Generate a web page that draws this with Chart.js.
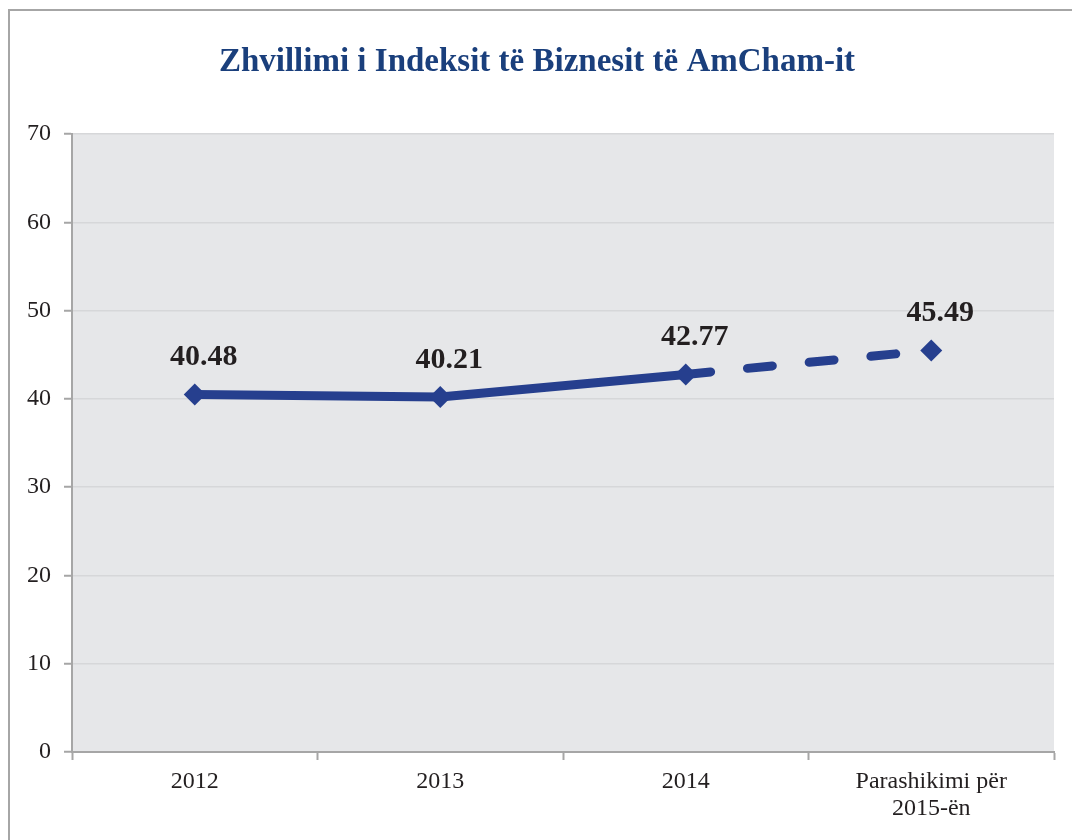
<!DOCTYPE html>
<html>
<head>
<meta charset="utf-8">
<script src="https://cdn.jsdelivr.net/npm/chart.js@4"></script>
<style>
  html, body { margin: 0; padding: 0; background: #ffffff; }
  #wrap { position: relative; width: 1072px; height: 840px; overflow: hidden; }
  #frame { position: absolute; left: 8px; top: 9px; width: 1100px; height: 900px;
           border-left: 2px solid #a6a6a6; border-top: 2px solid #a6a6a6; }
  canvas { position: absolute; left: 0; top: 0; }
</style>
</head>
<body>
<div id="wrap">
  <div id="frame"></div>
  <canvas id="c" width="1072" height="840"></canvas>
</div>
<script>
const chartTitle = 'Zhvillimi i Indeksit të Biznesit të AmCham-it';
const categories = ['2012', '2013', '2014', ['Parashikimi për', '2015-ën']];
const indexValues = [40.48, 40.21, 42.77, 45.49];
const valueLabels = ['40.48', '40.21', '42.77', '45.49'];
const yTicks = [0, 10, 20, 30, 40, 50, 60, 70];
const forecastFrom = 2; // segment starting at this index is the forecast

const lineColor = '#263f8e';

const plotBg = {
  id: 'plotBg',
  beforeDraw(chart) {
    const a = chart.chartArea, ctx = chart.ctx;
    ctx.save();
    ctx.fillStyle = '#e6e7e9';
    ctx.fillRect(a.left, a.top, a.right - a.left, a.bottom - a.top);
    ctx.restore();
  }
};

const valueLabelPlugin = {
  id: 'valueLabels',
  afterDatasetsDraw(chart) {
    const meta = chart.getDatasetMeta(0);
    const ctx = chart.ctx;
    ctx.save();
    ctx.font = 'bold 30px "Liberation Serif", serif';
    ctx.fillStyle = '#231f20';
    ctx.textAlign = 'center';
    ctx.textBaseline = 'middle';
    meta.data.forEach((pt, i) => {
      ctx.fillText(valueLabels[i], pt.x + 9, pt.y - 37);
    });
    ctx.restore();
  }
};

new Chart(document.getElementById('c'), {
  type: 'line',
  data: {
    labels: categories,
    datasets: [{
      data: indexValues,
      borderColor: lineColor,
      backgroundColor: lineColor,
      borderWidth: 9,
      borderCapStyle: 'round',
      tension: 0,
      pointStyle: 'rectRot',
      pointRadius: 11,
      pointHoverRadius: 11,
      pointBorderWidth: 0,
      pointBackgroundColor: lineColor,
      segment: {
        borderDash: ctx => ctx.p0DataIndex >= forecastFrom ? [25, 37] : undefined
      }
    }]
  },
  options: {
    responsive: false,
    animation: false,
    layout: { padding: { left: 20, right: 18, top: 0, bottom: 0 } },
    plugins: {
      legend: { display: false },
      tooltip: { enabled: false },
      title: {
        display: true,
        text: chartTitle,
        color: '#1a3f7c',
        font: { family: '"Liberation Serif", serif', size: 33, weight: 'bold', lineHeight: 1.2 },
        padding: { top: 43, bottom: 51.4 }
      }
    },
    scales: {
      x: {
        offset: true,
        afterFit(scale) { scale.height = 88; },
        grid: {
          offset: true,
          drawOnChartArea: false,
          drawTicks: true,
          tickLength: 8,
          tickColor: '#a6a6a6',
          tickWidth: 2
        },
        border: { display: true, color: '#a6a6a6', width: 2 },
        ticks: {
          color: '#231f20',
          font: { family: '"Liberation Serif", serif', size: 24, lineHeight: 1.1 },
          padding: 9,
          maxRotation: 0,
          autoSkip: false
        }
      },
      y: {
        min: 0,
        max: 70,
        afterFit(scale) { scale.width = 52; },
        afterBuildTicks(scale) { scale.ticks = yTicks.map(v => ({ value: v })); },
        grid: {
          color: '#d6d7d9',
          lineWidth: 1.5,
          drawTicks: true,
          tickLength: 8,
          tickColor: '#a6a6a6',
          tickWidth: 2
        },
        border: { display: true, color: '#a6a6a6', width: 2 },
        ticks: {
          color: '#231f20',
          font: { family: '"Liberation Serif", serif', size: 24 },
          padding: 13
        }
      }
    }
  },
  plugins: [plotBg, valueLabelPlugin]
});
</script>
</body>
</html>
